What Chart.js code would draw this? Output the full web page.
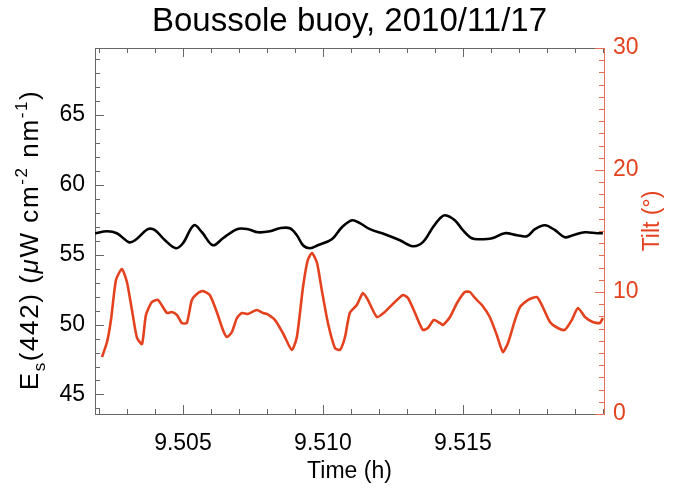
<!DOCTYPE html>
<html><head><meta charset="utf-8">
<script src="https://cdn.jsdelivr.net/npm/chart.js@4/dist/chart.umd.min.js"></script>
<style>html,body{margin:0;padding:0;background:#fff}#wrap{width:673px;height:488px}</style>
</head><body><div id="wrap"><canvas id="c" width="673" height="488"></canvas></div>
<script>
// ---- data ----
const chartTitle = 'Boussole buoy, 2010/11/17';
const xTitle = 'Time (h)';
const tiltTitle = 'Tilt (°)';

const esTime = [9.50186,9.50229,9.50264,9.50307,9.50329,9.50375,9.50400,9.50436,9.50475,9.50500,
  9.50539,9.50568,9.50607,9.50643,9.50693,9.50732,9.50768,9.50811,9.50846,9.50882,
  9.50907,9.50929,9.50954,9.50982,9.51032,9.51068,9.51104,9.51132,9.51168,9.51221,
  9.51275,9.51321,9.51357,9.51393,9.51418,9.51436,9.51471,9.51500,9.51532,9.51561,
  9.51604,9.51650,9.51693,9.51729,9.51757,9.51793,9.51829,9.51864,9.51893,9.51936,
  9.51979,9.52000];
const esValues = [56.54,56.68,56.54,55.90,56.04,56.83,56.76,56.04,55.47,55.82,
  57.11,56.61,55.68,56.18,56.83,56.83,56.61,56.68,56.90,56.90,
  56.40,55.68,55.47,55.68,56.11,56.97,57.47,57.26,56.83,56.47,
  56.04,55.61,55.90,56.97,57.60,57.83,57.47,56.76,56.18,56.11,
  56.18,56.54,56.40,56.33,56.83,57.11,56.76,56.25,56.40,56.61,
  56.54,56.54];

const tiltTime = [9.50211,9.50229,9.50243,9.50261,9.50282,9.50300,9.50318,9.50336,9.50354,9.50368,
  9.50389,9.50411,9.50443,9.50461,9.50479,9.50496,9.50514,9.50532,9.50554,9.50571,
  9.50596,9.50621,9.50643,9.50657,9.50675,9.50693,9.50711,9.50732,9.50764,9.50786,
  9.50800,9.50829,9.50857,9.50889,9.50907,9.50929,9.50946,9.50961,9.50979,9.50996,
  9.51018,9.51043,9.51061,9.51079,9.51096,9.51121,9.51143,9.51161,9.51193,9.51221,
  9.51257,9.51286,9.51304,9.51329,9.51357,9.51375,9.51396,9.51418,9.51429,9.51454,
  9.51479,9.51507,9.51525,9.51543,9.51568,9.51596,9.51621,9.51643,9.51661,9.51686,
  9.51704,9.51732,9.51764,9.51782,9.51811,9.51839,9.51864,9.51889,9.51911,9.51936,
  9.51964,9.51989,9.52000];
const tiltValues = [4.67,5.90,7.70,10.98,11.89,10.82,8.52,6.23,5.74,8.11,
  9.18,9.34,8.28,8.36,8.11,7.46,7.46,9.34,9.92,10.08,
  9.75,8.36,6.89,6.31,6.72,7.87,8.28,8.20,8.52,8.28,
  8.20,7.70,6.64,5.25,6.31,10.41,12.62,13.20,12.38,10.16,
  7.46,5.41,5.25,6.31,8.28,8.93,9.92,9.34,7.95,8.36,
  9.18,9.75,9.51,8.28,6.89,7.05,7.70,7.46,7.30,7.95,
  9.10,10.00,10.00,9.51,8.93,7.95,6.48,5.08,5.82,7.70,
  8.77,9.34,9.59,8.93,7.54,7.05,6.89,7.70,8.69,7.95,
  7.54,7.46,7.87];

const xTickValues = [9.505, 9.510, 9.515];
const esTickValues = [45, 50, 55, 60, 65];
const tiltTickValues = [0, 10, 20, 30];
const xRange = [9.50186, 9.52004];
const esRange = [43.6, 69.8];
const tiltRange = [0, 30];
const xMinorStep = 0.001, esMinorStep = 1, tiltMinorStep = 1;

// ---- styles ----
const FONT = "'Liberation Sans', Arial, sans-serif";
const RED = 'rgb(228,66,30)';
const AXIS = '#666';

function minorValues(min, max, step) {
  const out = [];
  for (let v = Math.ceil(min / step - 1e-9) * step; v <= max + 1e-12; v += step) out.push(+v.toFixed(6));
  return out;
}

const frameTicks = {
  id: 'frameTicks',
  afterDatasetsDraw(chart) {
    const {ctx, chartArea: a, scales} = chart;
    ctx.save();
    ctx.lineWidth = 1;
    ctx.strokeStyle = AXIS;
    ctx.beginPath(); ctx.moveTo(a.left, a.top + 0.5); ctx.lineTo(a.right, a.top + 0.5); ctx.stroke();
    const MAJ = 9, MIN = 5;
    const xs = scales.x;
    ctx.beginPath();
    minorValues(xRange[0], xRange[1], xMinorStep).forEach(v => {
      const px = Math.round(xs.getPixelForValue(v)) + 0.5;
      const len = xTickValues.some(t => Math.abs(t - v) < 1e-7) ? MAJ : MIN;
      ctx.moveTo(px, a.bottom); ctx.lineTo(px, a.bottom - len);
      ctx.moveTo(px, a.top); ctx.lineTo(px, a.top + len);
    });
    const ys = scales.y;
    minorValues(esRange[0], esRange[1], esMinorStep).forEach(v => {
      const py = Math.round(ys.getPixelForValue(v)) + 0.5;
      const len = esTickValues.includes(v) ? MAJ : MIN;
      ctx.moveTo(a.left, py); ctx.lineTo(a.left + len, py);
    });
    ctx.stroke();
    ctx.strokeStyle = 'rgb(225,110,85)';
    ctx.beginPath();
    const y2 = scales.y2;
    minorValues(tiltRange[0], tiltRange[1], tiltMinorStep).forEach(v => {
      const py = Math.round(y2.getPixelForValue(v)) + 0.5;
      const len = tiltTickValues.includes(v) ? MAJ : MIN;
      ctx.moveTo(a.right, py); ctx.lineTo(a.right - len, py);
    });
    ctx.stroke();
    ctx.restore();
  }
};

const sideTitles = {
  id: 'sideTitles',
  afterDraw(chart) {
    const {ctx, chartArea: a} = chart;
    const big = 26, small = 17;
    const parts = [
      {t: 'E', s: big, dy: 0},
      {t: 's', s: small, dy: 7},
      {t: '(442) (', s: big, dy: 0},
      {t: 'μ', s: big, dy: 0, it: true},
      {t: 'W cm', s: big, dy: 0},
      {t: '-2', s: small, dy: -11},
      {t: ' nm', s: big, dy: 0},
      {t: '-1', s: small, dy: -11},
      {t: ')', s: big, dy: 0}
    ];
    ctx.save();
    ctx.fillStyle = '#000';
    ctx.textBaseline = 'alphabetic';
    if ('letterSpacing' in ctx) ctx.letterSpacing = '1.6px';
    let total = 0;
    parts.forEach(p => { ctx.font = (p.it ? 'italic ' : '') + p.s + 'px ' + FONT; p.w = ctx.measureText(p.t).width; total += p.w; });
    const cy = (a.top + a.bottom) / 2 + 9;
    ctx.translate(38, cy);
    ctx.rotate(-Math.PI / 2);
    let x = -total / 2;
    parts.forEach(p => {
      ctx.font = (p.it ? 'italic ' : '') + p.s + 'px ' + FONT;
      ctx.fillText(p.t, x, p.dy);
      x += p.w;
    });
    ctx.restore();

    ctx.save();
    ctx.fillStyle = RED;
    ctx.font = '23px ' + FONT;
    ctx.textAlign = 'center';
    ctx.textBaseline = 'middle';
    ctx.translate(653, (a.top + a.bottom) / 2 - 10);
    ctx.rotate(-Math.PI / 2);
    ctx.fillText(tiltTitle, 0, 0);
    ctx.restore();
  }
};

new Chart(document.getElementById('c'), {
  type: 'line',
  data: {
    datasets: [
      {label: 'Es(442)', data: esTime.map((t, i) => ({x: t, y: esValues[i]})), yAxisID: 'y',
       borderColor: '#000', borderWidth: 2.6, pointRadius: 0, tension: 0.35, fill: false},
      {label: 'Tilt', data: tiltTime.map((t, i) => ({x: t, y: tiltValues[i]})), yAxisID: 'y2',
       borderColor: RED, borderWidth: 2.6, pointRadius: 0, tension: 0.2, fill: false}
    ]
  },
  options: {
    responsive: false, animation: false, devicePixelRatio: 1,
    layout: {padding: {left: 0, right: 0, top: 0, bottom: 0}},
    plugins: {
      legend: {display: false}, tooltip: {enabled: false},
      title: {display: true, text: chartTitle, color: '#000', fullSize: false,
              font: {family: FONT, size: 33, weight: 'normal'}, padding: {top: 2, bottom: 6.4}}
    },
    scales: {
      x: {type: 'linear', position: 'bottom', min: xRange[0], max: xRange[1],
          afterBuildTicks: s => { s.ticks = xTickValues.map(v => ({value: v})); },
          ticks: {callback: v => v.toFixed(3), color: '#000', font: {family: FONT, size: 23}, maxRotation: 0, autoSkip: false, padding: 16},
          grid: {display: false, drawTicks: false},
          border: {display: true, color: AXIS, width: 1},
          title: {display: true, text: xTitle, color: '#000', font: {family: FONT, size: 23}, padding: {top: 0, bottom: 3}},
          afterFit: s => { s.height = 74; }},
      y: {position: 'left', min: esRange[0], max: esRange[1],
          afterBuildTicks: s => { s.ticks = esTickValues.map(v => ({value: v})); },
          ticks: {color: '#000', font: {family: FONT, size: 23}, padding: 10},
          grid: {display: false, drawTicks: false},
          border: {display: true, color: AXIS, width: 1},
          afterFit: s => { s.width = 95; }},
      y2: {position: 'right', min: tiltRange[0], max: tiltRange[1],
          afterBuildTicks: s => { s.ticks = tiltTickValues.map(v => ({value: v})); },
          ticks: {color: RED, font: {family: FONT, size: 23}, padding: 9},
          grid: {display: false, drawTicks: false},
          border: {display: true, color: 'rgb(225,110,85)', width: 1},
          afterFit: s => { s.width = 69; }}
    }
  },
  plugins: [frameTicks, sideTitles]
});
</script>
</body></html>
